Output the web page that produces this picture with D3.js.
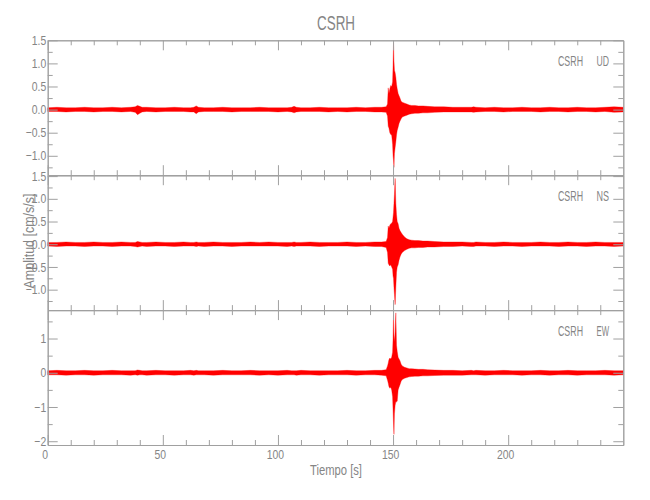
<!DOCTYPE html>
<html>
<head>
<meta charset="utf-8">
<script src="https://cdn.jsdelivr.net/npm/d3@7"></script>
<style>
  html, body { margin: 0; padding: 0; background: #fff; }
  svg { display: block; }
  text { font-family: "Liberation Sans", "Arimo", sans-serif; fill: #858585; }
</style>
</head>
<body>
<svg id="chart" width="650" height="500"></svg>
<script>
// ---------- DATA ----------
const title = "CSRH";
const station = "CSRH";
const components = ["UD", "NS", "EW"];
const xLabel = "Tiempo [s]";
const yLabel = "Amplitud [cm/s/s]";
const xTicks = [0, 50, 100, 150, 200];

// time samples (s) at which the upper / lower envelopes were read
const times = [
  0, 4, 8, 12, 16, 20, 24, 28, 32, 36,
  38, 39, 40, 41, 43, 47, 51, 55, 59, 62,
  63.5, 64.5, 65.5, 68, 72, 76, 80, 84, 88, 92,
  96, 100, 104, 106, 107, 108, 110, 114, 118, 122,
  126, 130, 134, 138, 142, 145, 147, 147.6, 147.9, 148.2,
  148.6, 149.0, 149.4, 149.8, 150.0, 150.2, 150.4, 150.6, 150.9, 151.2,
  151.5, 151.8, 152.2, 152.6, 153.0, 153.5, 154, 155, 156, 157,
  158, 159.5, 161, 163, 165, 168, 172, 176, 180, 184,
  185, 186, 190, 194, 198, 202, 206, 210, 214, 218,
  222, 226, 230, 234, 238, 242, 246, 250
];

const udHigh = [
  0.04, 0.05, 0.04, 0.04, 0.05, 0.04, 0.04, 0.05, 0.04, 0.05,
  0.06, 0.09, 0.07, 0.05, 0.05, 0.04, 0.04, 0.05, 0.04, 0.04,
  0.05, 0.08, 0.05, 0.04, 0.04, 0.05, 0.04, 0.04, 0.04, 0.05,
  0.04, 0.04, 0.04, 0.05, 0.07, 0.05, 0.04, 0.04, 0.05, 0.04,
  0.04, 0.04, 0.05, 0.04, 0.05, 0.05, 0.06, 0.12, 0.47, 0.35,
  0.45, 0.52, 0.50, 0.60, 0.95, 1.44, 1.05, 0.85, 0.80, 0.70,
  0.55, 0.45, 0.35, 0.30, 0.25, 0.18, 0.16, 0.14, 0.12, 0.10,
  0.09, 0.09, 0.08, 0.08, 0.07, 0.06, 0.06, 0.05, 0.05, 0.05,
  0.06, 0.05, 0.04, 0.05, 0.04, 0.04, 0.05, 0.04, 0.04, 0.05,
  0.04, 0.04, 0.05, 0.04, 0.04, 0.05, 0.06, 0.05
];
const udLow = [
  -0.04, -0.04, -0.05, -0.04, -0.04, -0.05, -0.04, -0.04, -0.05, -0.04,
  -0.06, -0.11, -0.08, -0.05, -0.04, -0.05, -0.04, -0.04, -0.04, -0.05,
  -0.05, -0.09, -0.05, -0.04, -0.04, -0.04, -0.05, -0.04, -0.04, -0.04,
  -0.04, -0.05, -0.04, -0.05, -0.07, -0.05, -0.04, -0.04, -0.04, -0.05,
  -0.04, -0.05, -0.04, -0.04, -0.05, -0.05, -0.06, -0.14, -0.36, -0.40,
  -0.50, -0.54, -0.55, -0.75, -1.00, -1.10, -1.25, -0.95, -0.82, -0.70,
  -0.55, -0.45, -0.38, -0.30, -0.25, -0.20, -0.16, -0.14, -0.12, -0.10,
  -0.09, -0.08, -0.08, -0.07, -0.07, -0.06, -0.05, -0.05, -0.05, -0.05,
  -0.06, -0.05, -0.04, -0.04, -0.05, -0.04, -0.04, -0.04, -0.05, -0.04,
  -0.04, -0.05, -0.04, -0.04, -0.05, -0.04, -0.06, -0.05
];

const nsHigh = [
  0.04, 0.04, 0.05, 0.04, 0.04, 0.05, 0.04, 0.04, 0.05, 0.04,
  0.04, 0.06, 0.05, 0.04, 0.04, 0.05, 0.04, 0.04, 0.05, 0.04,
  0.04, 0.05, 0.04, 0.04, 0.05, 0.04, 0.04, 0.04, 0.05, 0.04,
  0.05, 0.04, 0.04, 0.04, 0.05, 0.04, 0.04, 0.05, 0.04, 0.04,
  0.04, 0.05, 0.04, 0.04, 0.05, 0.05, 0.06, 0.15, 0.40, 0.35,
  0.42, 0.45, 0.46, 0.50, 0.60, 0.70, 0.90, 1.10, 1.45, 0.90,
  0.65, 0.50, 0.45, 0.35, 0.30, 0.26, 0.22, 0.16, 0.12, 0.10,
  0.09, 0.08, 0.08, 0.07, 0.07, 0.06, 0.05, 0.05, 0.05, 0.04,
  0.04, 0.05, 0.04, 0.04, 0.05, 0.04, 0.04, 0.04, 0.05, 0.04,
  0.04, 0.05, 0.04, 0.04, 0.05, 0.04, 0.04, 0.04
];
const nsLow = [
  -0.04, -0.05, -0.04, -0.04, -0.05, -0.04, -0.04, -0.05, -0.04, -0.04,
  -0.05, -0.06, -0.05, -0.04, -0.05, -0.04, -0.04, -0.05, -0.04, -0.04,
  -0.04, -0.05, -0.04, -0.05, -0.04, -0.04, -0.05, -0.04, -0.04, -0.04,
  -0.04, -0.04, -0.05, -0.04, -0.05, -0.04, -0.04, -0.04, -0.05, -0.04,
  -0.04, -0.04, -0.05, -0.04, -0.05, -0.05, -0.07, -0.18, -0.42, -0.45,
  -0.48, -0.45, -0.50, -0.55, -0.70, -0.75, -0.95, -1.10, -1.33, -0.95,
  -0.62, -0.50, -0.45, -0.35, -0.28, -0.22, -0.18, -0.14, -0.11, -0.09,
  -0.08, -0.08, -0.07, -0.07, -0.06, -0.06, -0.05, -0.05, -0.04, -0.05,
  -0.05, -0.04, -0.04, -0.05, -0.04, -0.04, -0.05, -0.04, -0.04, -0.04,
  -0.05, -0.04, -0.04, -0.05, -0.04, -0.04, -0.05, -0.04
];

const ewHigh = [
  0.06, 0.07, 0.06, 0.06, 0.07, 0.06, 0.06, 0.07, 0.06, 0.06,
  0.06, 0.08, 0.07, 0.06, 0.06, 0.07, 0.06, 0.06, 0.06, 0.07,
  0.06, 0.07, 0.06, 0.06, 0.06, 0.07, 0.06, 0.06, 0.07, 0.06,
  0.06, 0.06, 0.07, 0.06, 0.06, 0.06, 0.07, 0.06, 0.06, 0.06,
  0.06, 0.07, 0.06, 0.06, 0.07, 0.07, 0.09, 0.20, 0.28, 0.38,
  0.43, 0.40, 0.45, 0.60, 1.00, 1.70, 1.10, 0.90, 1.20, 1.75,
  0.80, 0.62, 0.45, 0.40, 0.35, 0.25, 0.20, 0.16, 0.14, 0.12,
  0.12, 0.11, 0.10, 0.10, 0.09, 0.08, 0.07, 0.07, 0.06, 0.07,
  0.06, 0.07, 0.06, 0.06, 0.07, 0.06, 0.06, 0.06, 0.07, 0.06,
  0.06, 0.07, 0.06, 0.06, 0.06, 0.07, 0.06, 0.06
];
const ewLow = [
  -0.06, -0.06, -0.07, -0.06, -0.06, -0.07, -0.06, -0.06, -0.06, -0.07,
  -0.06, -0.07, -0.06, -0.06, -0.07, -0.06, -0.06, -0.07, -0.06, -0.06,
  -0.07, -0.06, -0.06, -0.06, -0.07, -0.06, -0.06, -0.06, -0.06, -0.07,
  -0.06, -0.07, -0.06, -0.06, -0.06, -0.07, -0.06, -0.06, -0.07, -0.06,
  -0.06, -0.06, -0.07, -0.06, -0.06, -0.07, -0.09, -0.22, -0.30, -0.40,
  -0.45, -0.42, -0.50, -0.70, -1.10, -1.50, -1.80, -1.20, -0.95, -0.85,
  -0.85, -0.83, -0.50, -0.42, -0.35, -0.25, -0.20, -0.16, -0.14, -0.12,
  -0.11, -0.10, -0.10, -0.09, -0.09, -0.08, -0.07, -0.07, -0.07, -0.06,
  -0.06, -0.06, -0.07, -0.06, -0.06, -0.06, -0.07, -0.06, -0.06, -0.07,
  -0.06, -0.06, -0.07, -0.06, -0.06, -0.06, -0.07, -0.06
];

// y ranges and tick sets per panel
const yDomains = [[-1.42, 1.5], [-1.45, 1.52], [-2.11, 1.83]];
const yMajorTicks = [
  [-1.0, -0.5, 0.0, 0.5, 1.0, 1.5],
  [-1.0, -0.5, 0.0, 0.5, 1.0, 1.5],
  [-2, -1, 0, 1]
];
const yMinorTicks = [
  [-1.25, -0.75, -0.25, 0.25, 0.75, 1.25],
  [-1.25, -0.75, -0.25, 0.25, 0.75, 1.25],
  [-1.5, -0.5, 0.5, 1.5]
];
const yFormats = [".1f", ".1f", "d"];

// ---------- LAYOUT ----------
const svg = d3.select("#chart");
const left = 47.7, right = 623.3;
const top0 = 40.3, bottomLast = 445;
const nPanels = 3;
const panelH = (bottomLast - top0) / nPanels;
const axisColor = "#a0a0a0";
const textColor = "#858585";

const x = d3.scaleLinear().domain([0, 250]).range([left, right]);
const xMinor = d3.range(0, 251, 10).filter(v => v % 50 !== 0);

const series = [
  { hi: udHigh, lo: udLow },
  { hi: nsHigh, lo: nsLow },
  { hi: ewHigh, lo: ewLow }
];

// narrow the glyphs (the reference uses a condensed stroke font)
function condense(sel, factor) {
  sel.each(function () {
    const w = this.getComputedTextLength();
    if (w > 0) {
      d3.select(this).attr("textLength", w * factor).attr("lengthAdjust", "spacingAndGlyphs");
    }
  });
}
function fixedWidth(sel, w) {
  sel.attr("textLength", w).attr("lengthAdjust", "spacingAndGlyphs");
}

function styleAxis(g) {
  g.selectAll("path, line").attr("stroke", axisColor).attr("stroke-width", 1);
  g.selectAll("text").attr("fill", textColor);
}

series.forEach((s, i) => {
  const pTop = top0 + i * panelH;
  const pBot = pTop + panelH;
  const y = d3.scaleLinear().domain(yDomains[i]).range([pBot, pTop]);

  // signal envelope
  const pts = times.map((t, k) => ({ t: t, hi: s.hi[k], lo: s.lo[k] }));
  const area = d3.area()
    .x(d => x(d.t))
    .y0(d => y(d.lo))
    .y1(d => y(d.hi));
  svg.append("path")
    .datum(pts)
    .attr("d", area)
    .attr("fill", "#ff0000")
    .attr("stroke", "#ff0000")
    .attr("stroke-width", 0.35)
    .attr("stroke-linejoin", "round");

  // left axis: majors with labels
  const gl = svg.append("g").attr("transform", `translate(${left},0)`)
    .call(d3.axisLeft(y).tickValues(yMajorTicks[i]).tickFormat(d3.format(yFormats[i]))
      .tickSizeInner(-10).tickSizeOuter(0).tickPadding(1.5));
  gl.selectAll("text").style("font-size", "13px");
  styleAxis(gl);
  condense(gl.selectAll("text"), 0.8);
  const glm = svg.append("g").attr("transform", `translate(${left},0)`)
    .call(d3.axisLeft(y).tickValues(yMinorTicks[i]).tickFormat("").tickSizeInner(-5).tickSizeOuter(0));
  styleAxis(glm);

  // right axis ticks
  const gr = svg.append("g").attr("transform", `translate(${right},0)`)
    .call(d3.axisRight(y).tickValues(yMajorTicks[i]).tickFormat("").tickSizeInner(-10).tickSizeOuter(0));
  styleAxis(gr);
  const grm = svg.append("g").attr("transform", `translate(${right},0)`)
    .call(d3.axisRight(y).tickValues(yMinorTicks[i]).tickFormat("").tickSizeInner(-5).tickSizeOuter(0));
  styleAxis(grm);

  // top axis ticks (pointing down)
  const gt = svg.append("g").attr("transform", `translate(0,${pTop})`)
    .call(d3.axisTop(x).tickValues(xTicks).tickFormat("").tickSizeInner(-10).tickSizeOuter(0));
  styleAxis(gt);
  const gtm = svg.append("g").attr("transform", `translate(0,${pTop})`)
    .call(d3.axisTop(x).tickValues(xMinor).tickFormat("").tickSizeInner(-5).tickSizeOuter(0));
  styleAxis(gtm);

  // bottom axis ticks (pointing up); labels only on last panel
  const isLast = i === nPanels - 1;
  const gb = svg.append("g").attr("transform", `translate(0,${pBot})`)
    .call(d3.axisBottom(x).tickValues(xTicks)
      .tickFormat(isLast ? d3.format("d") : "")
      .tickSizeInner(-10).tickSizeOuter(0).tickPadding(5));
  gb.selectAll("text").style("font-size", "13px").attr("dx", -3);
  styleAxis(gb);
  condense(gb.selectAll("text"), 0.8);
  const gbm = svg.append("g").attr("transform", `translate(0,${pBot})`)
    .call(d3.axisBottom(x).tickValues(xMinor).tickFormat("").tickSizeInner(-5).tickSizeOuter(0));
  styleAxis(gbm);

  // component label
  svg.append("text")
    .attr("x", 558).attr("y", pTop + 26)
    .style("font-size", "14px").attr("fill", textColor)
    .text(station)
    .call(fixedWidth, 25);
  svg.append("text")
    .attr("x", 596.5).attr("y", pTop + 26)
    .style("font-size", "14px").attr("fill", textColor)
    .text(components[i])
    .call(fixedWidth, 12.5);
});

// title
svg.append("text")
  .attr("x", 336).attr("y", 30)
  .attr("text-anchor", "middle")
  .style("font-size", "21px").attr("fill", "#777")
  .text(title)
  .call(fixedWidth, 38);

// x label
svg.append("text")
  .attr("x", 336).attr("y", 475)
  .attr("text-anchor", "middle")
  .style("font-size", "14px").attr("fill", textColor)
  .text(xLabel)
  .call(fixedWidth, 52);

// y label
svg.append("text")
  .attr("transform", "translate(34,241) rotate(-90)")
  .attr("text-anchor", "middle")
  .style("font-size", "14px").attr("fill", textColor)
  .text(yLabel)
  .call(fixedWidth, 95);
</script>
</body>
</html>
